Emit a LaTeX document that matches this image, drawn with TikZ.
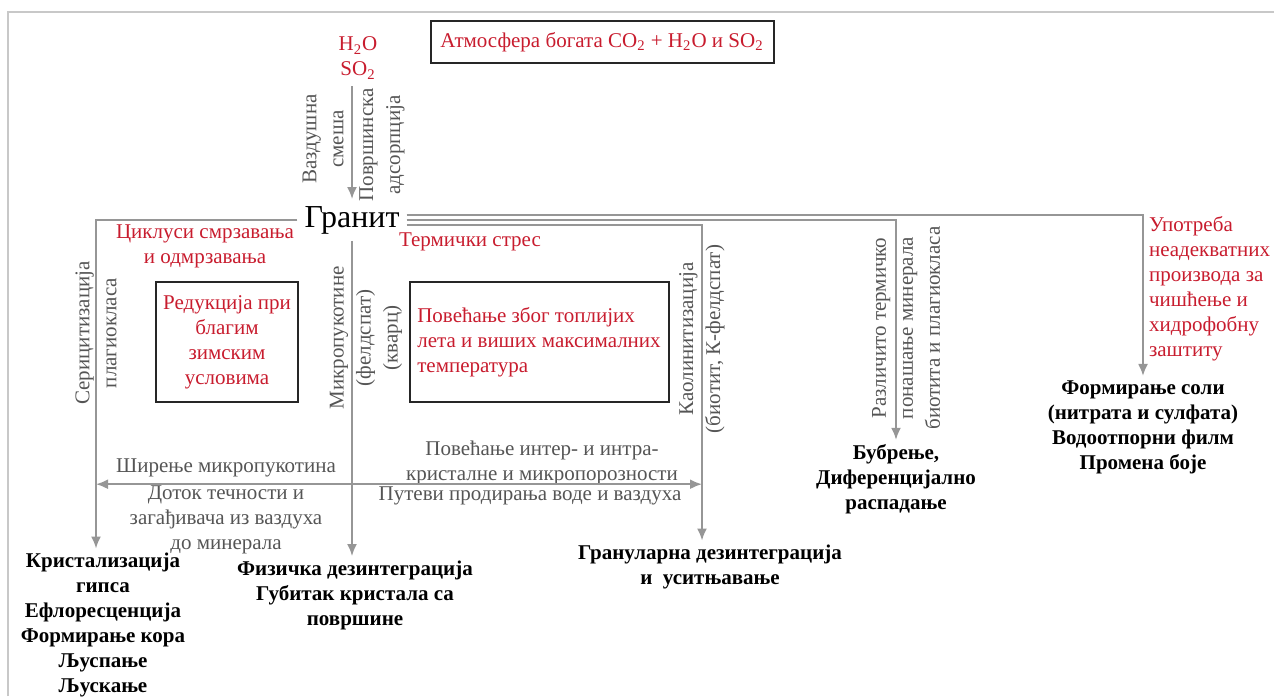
\documentclass[tikz,border=0pt]{standalone}
\usepackage{fontspec}
\setmainfont{Liberation Serif}
\usetikzlibrary{positioning, arrows.meta}
\definecolor{crvena}{RGB}{200,28,46}
\definecolor{sivatekst}{RGB}{85,85,85}
\definecolor{sivalinija}{RGB}{150,150,150}
\definecolor{okvir}{RGB}{200,200,200}
\tikzset{
  redbox/.style={rectangle, draw=black!85, line width=1pt, text=crvena, align=center},
  redtxt/.style={text=crvena, align=left},
  proc/.style={text=sivatekst, align=center},
  vert/.style={text=sivatekst, align=center, rotate=90, font=\fontsize{10.5}{13.5}\selectfont},
  result/.style={align=center, inner sep=2pt, font=\fontsize{10.5}{12.5}\selectfont\bfseries},
  link/.style={draw=sivalinija, line width=1pt},
  arrow/.style={link, -{Latex[length=6pt,width=5pt]}},
  darrow/.style={link, {Latex[length=6pt,width=5pt]}-{Latex[length=6pt,width=5pt]}}
}

\begin{document}
\begin{tikzpicture}[x=0.5pt, y=-0.5pt, every node/.style={font=\fontsize{10.5}{12.5}\selectfont}]
    \useasboundingbox (0,0) rectangle (1274,696);
    \draw [okvir, line width=1pt] (8,696) -- (8,12) -- (1274,12);

    \node (atm) [redbox, minimum width=171.5pt, minimum height=21pt] at (602,42)
    {Атмосфера богата CO\textsubscript{2} + H\textsubscript{2}O и SO\textsubscript{2}};
    \node (gases) [redtxt, align=center] at (358,58) {H\textsubscript{2}O\\SO\textsubscript{2}};
    \node (granit) [font=\fontsize{16}{18}\selectfont] at (352,220) {Гранит};

    \node (vazd) [vert] at (323,139) {Ваздушна\\смеша};
    \node (povr) [vert] at (382,145) {Површинска\\адсорпција};

    % Procesi
    \node (ciklus) [redtxt, align=center] at (205,246) {Циклуси смрзавања\\и одмрзавања};
    \node (redu) [redbox, minimum width=70pt, minimum height=60pt] at (227,342)
    {Редукција при\\благим\\зимским\\условима};
    \node (stres) [redtxt] at (470,242) {Термички стрес};
    \node (povec) [redbox, align=left, minimum width=129.5pt, minimum height=60pt] at (539,342)
    {Повећање због топлијих\\лета и виших максималних\\температура};
    \node (upotr) [redtxt, anchor=west] at (1142,289)
    {Употреба\\неадекватних\\производа за\\чишћење и\\хидрофобну\\заштиту};

    \node (seri) [vert] at (96,333) {Серицитизација\\плагиокласа};
    \node (mikro) [vert] at (366,338) {Микропукотине\\(фелдспат)\\(кварц)};
    \node (kaol) [vert] at (702,339) {Каолинитизација\\(биотит, К-фелдспат)};
    \node (razl) [vert] at (906,328) {Различито термичко\\понашање минерала\\биотита и плагиокласа};

    \node (shir) [proc] at (226,468) {Ширење микропукотина};
    \node (dotok) [proc] at (226,520) {Доток течности и\\загађивача из ваздуха\\до минерала};
    \node (povint) [proc] at (542,463) {Повећање интер- и интра-\\кристалне и микропорозности};
    \node (putevi) [proc] at (530,496) {Путеви продирања воде и ваздуха};

    % Posledice
    \node (kristal) [result] at (103,625)
    {Кристализација\\гипса\\Ефлоресценција\\Формирање кора\\Љуспање\\Љускање};
    \node (fiz) [result] at (355,595) {Физичка дезинтеграција\\Губитак кристала са\\површине};
    \node (granul) [result] at (710,567) {Грануларна дезинтеграција\\и~~уситњавање};
    \node (bubr) [result] at (896,479) {Бубрење,\\Диференцијално\\распадање};
    \node (form) [result] at (1143,427)
    {Формирање соли\\(нитрата и сулфата)\\Водоотпорни филм\\Промена боје};

    % Strelice
    \draw [arrow] (gases.south -| granit) -- (granit.north);
    \draw [arrow] (granit.west) -| (seri.center |- kristal.north);
    \draw [arrow] (granit.south) -- (granit.south |- fiz.north);
    \draw [arrow] ([yshift=2.5pt]granit.east) -| (form.north);
    \draw [arrow] (granit.east) -| (bubr.north);
    \draw [arrow] ([yshift=-2.5pt]granit.east) -| (kaol.center |- granul.north);
    \draw [darrow] (seri.center |- shir.south) -- (kaol.center |- shir.south);

\end{tikzpicture}
\end{document}
